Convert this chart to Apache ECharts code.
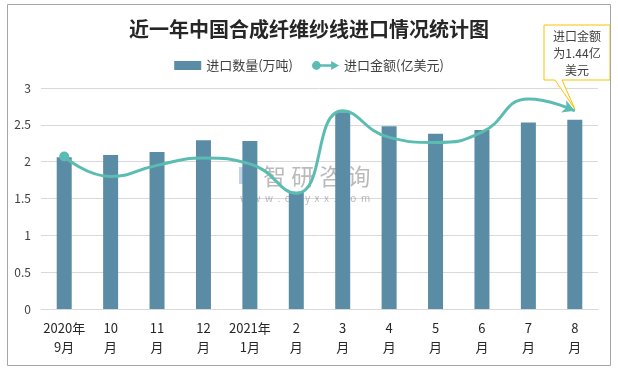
<!DOCTYPE html>
<html>
<head>
<meta charset="utf-8">
<script src="https://cdn.jsdelivr.net/npm/echarts@6/dist/echarts.min.js"></script>
<style>
html,body{margin:0;padding:0;background:#fff;}
#c{width:618px;height:370px;}
</style>
</head>
<body>
<div id="c"></div>
<script>
const titleText = '近一年中国合成纤维纱线进口情况统计图';
const categories = ['2020年\n9月','10\n月','11\n月','12\n月','2021年\n1月','2\n月','3\n月','4\n月','5\n月','6\n月','7\n月','8\n月'];
const quantity = [2.06, 2.09, 2.13, 2.29, 2.28, 1.59, 2.67, 2.48, 2.38, 2.43, 2.53, 2.57];
const amount = [2.07, 1.80, 1.95, 2.05, 1.97, 1.57, 2.69, 2.33, 2.26, 2.40, 2.85, 2.69];
const yTicks = [0, 0.5, 1, 1.5, 2, 2.5, 3];
const seriesNames = ['进口数量(万吨)', '进口金额(亿美元)'];
const calloutText = '进口金额\n为1.44亿\n美元';

const FONT = '"Noto Sans CJK SC", "Microsoft YaHei", sans-serif';
const barColor = '#5b8ca5';
const lineColor = '#5bbcb2';

const chart = echarts.init(document.getElementById('c'), null, {renderer: 'canvas'});

const lineData = amount.map((v, i) => {
  if (i === 0) return {value: v, symbol: 'circle', symbolSize: 10};
  if (i === amount.length - 1) return {value: v, symbol: 'arrow', symbolSize: [10, 12], symbolRotate: -112};
  return {value: v, symbol: 'none'};
});

const legendLineIcon = 'path://M0.5,5 A4.5,4.5 0 1,1 9.5,5 A4.5,4.5 0 1,1 0.5,5 Z M9,3.8 L20,3.8 L20,0.5 L28,5 L20,9.5 L20,6.2 L9,6.2 Z';

chart.setOption({
  animation: false,
  backgroundColor: '#fff',
  title: {
    text: titleText,
    left: 'center',
    top: 14,
    textStyle: {fontFamily: FONT, fontSize: 20, fontWeight: 'bold', color: '#262626'}
  },
  legend: {
    top: 54,
    left: 'center',
    itemGap: 19,
    itemWidth: 27,
    itemHeight: 9,
    textStyle: {fontFamily: FONT, fontSize: 13, color: '#404040'},
    data: [
      {name: seriesNames[0], icon: 'rect'},
      {name: seriesNames[1], icon: legendLineIcon}
    ]
  },
  grid: {left: 41, right: 20, top: 88, bottom: 61, containLabel: false},
  xAxis: {
    type: 'category',
    data: categories,
    axisTick: {show: false},
    axisLine: {lineStyle: {color: '#d9d9d9', width: 1}},
    axisLabel: {fontFamily: FONT, fontSize: 13, color: '#262626', lineHeight: 19, margin: 10, interval: 0}
  },
  yAxis: {
    type: 'value',
    min: yTicks[0],
    max: yTicks[yTicks.length - 1],
    interval: yTicks[1] - yTicks[0],
    axisLine: {show: false},
    axisTick: {show: false},
    axisLabel: {fontFamily: FONT, fontSize: 12, color: '#404040', margin: 10},
    splitLine: {lineStyle: {color: '#d9d9d9', width: 1}}
  },
  series: [
    {
      name: seriesNames[0],
      type: 'bar',
      data: quantity,
      barWidth: 15,
      itemStyle: {color: barColor}
    },
    {
      name: seriesNames[1],
      type: 'line',
      data: lineData,
      smooth: 0.5,
      symbol: 'none',
      showAllSymbol: true,
      lineStyle: {color: lineColor, width: 3},
      itemStyle: {color: lineColor},
      z: 5
    }
  ]
});

// Annotation callout anchored to last line point
const lastIdx = amount.length - 1;
const tip = chart.convertToPixel({seriesIndex: 1}, [lastIdx, amount[lastIdx]]);
const bx = 544, by = 25, bw = 66, bh = 55;
chart.setOption({
  graphic: [
    {
      type: 'rect', silent: true,
      shape: {x: 7.5, y: 4.5, width: 603, height: 361},
      style: {fill: null, stroke: '#a6a6a6', lineWidth: 1},
      z: 100
    },
    {
      type: 'group', silent: true, z: 120,
      children: [
        {
          type: 'polygon',
          shape: {points: [[bx, by], [bx + bw, by], [bx + bw, by + bh], [bx + 18, by + bh], [tip[0], tip[1] - 2], [bx + 11, by + bh], [bx, by + bh]]},
          style: {fill: '#fff', stroke: '#ffc000', lineWidth: 1}
        },
        {
          type: 'text',
          style: {x: bx + bw / 2, y: by + bh / 2 + 1, text: calloutText, align: 'center', verticalAlign: 'middle',
                  fontFamily: FONT, fontSize: 12, lineHeight: 17, fill: '#404040'}
        }
      ]
    },
    {
      type: 'group', silent: true, z: 90,
      children: [
        {type: 'rect', shape: {x: 239, y: 167, width: 7, height: 17}, style: {fill: 'rgba(120,160,210,0.45)'}},
        {type: 'rect', shape: {x: 247, y: 167, width: 7, height: 8}, style: {fill: 'rgba(120,160,210,0.45)'}},
        {type: 'rect', shape: {x: 247, y: 176, width: 7, height: 8}, style: {fill: 'rgba(120,160,210,0.35)'}},
        {type: 'text', style: {x: 263, y: 176, text: '智 研 咨 询', verticalAlign: 'middle', fontFamily: FONT, fontSize: 23, fill: 'rgba(130,130,130,0.55)'}},
        {type: 'text', style: {x: 240, y: 198, text: 'w  w  w  .  c  h  y  x  x  .  c  o  m', verticalAlign: 'middle', fontFamily: FONT, fontSize: 10, fill: 'rgba(130,130,130,0.55)'}}
      ]
    }
  ]
});
</script>
</body>
</html>
